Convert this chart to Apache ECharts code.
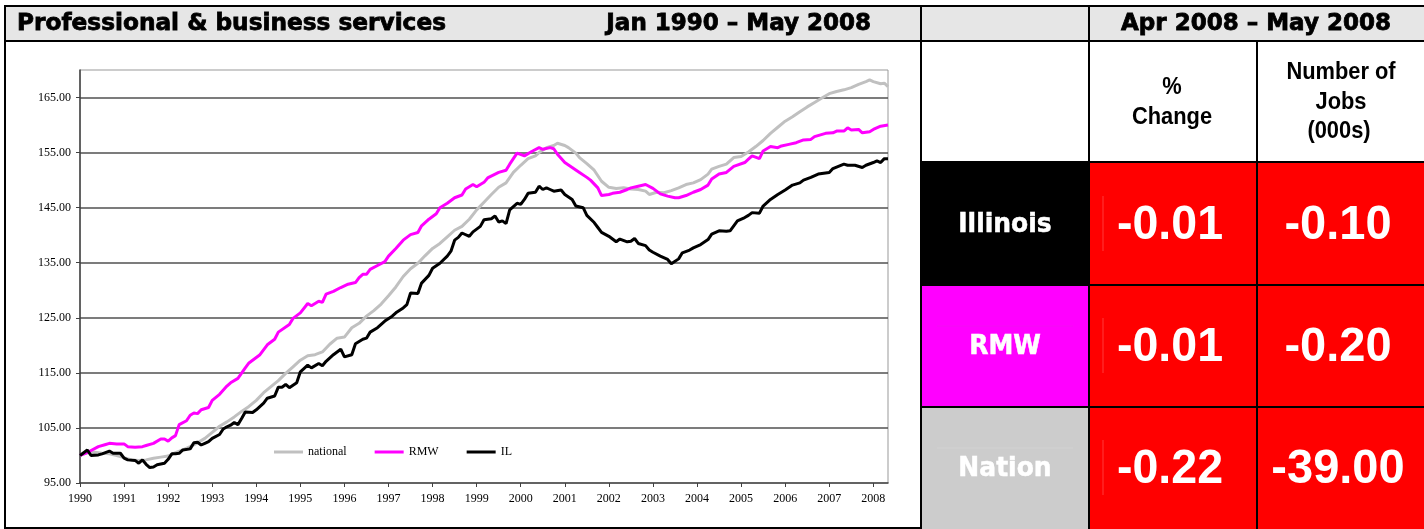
<!DOCTYPE html>
<html><head><meta charset="utf-8">
<script src="https://cdn.jsdelivr.net/npm/echarts@6/dist/echarts.min.js"></script>
<style>html,body{margin:0;padding:0;background:#fff}#c{width:1424px;height:529px}</style>
</head><body><div id="c"></div>
<script>
// ---------- data ----------
const chartTitle = 'Professional & business services';
const chartPeriod = 'Jan 1990 \u2013 May 2008';
const tablePeriod = 'Apr 2008 \u2013 May 2008';
const years = [1990,1991,1992,1993,1994,1995,1996,1997,1998,1999,2000,2001,2002,2003,2004,2005,2006,2007,2008];
const monthNames = ['Jan','Feb','Mar','Apr','May','Jun','Jul','Aug','Sep','Oct','Nov','Dec'];
const monthCount = 221; // Jan 1990 .. May 2008
const yMin = 95, yMax = 170, yStep = 10;
const seriesNames = ['national','RMW','IL'];

// [month index from Jan 1990, index value]
const national = [[0,100],[2,100.5],[4,100.6],[6,100.4],[8,100.3],[10,100],[12,99.6],[14,99.2],[16,99.1],[18,99.2],[20,99.5],[22,99.7],[24,99.9],[26,100.5],[28,101],[30,101.6],[32,102.3],[34,103.1],[36,104.2],[38,105.3],[40,106.1],[42,107],[44,108],[46,108.9],[48,110],[50,111.4],[52,112.5],[54,113.6],[56,114.9],[58,116.1],[60,117.3],[62,118.1],[64,118.3],[66,118.8],[68,120.2],[70,121.3],[72,121.5],[74,123.2],[76,124],[78,125.3],[80,126.3],[82,127.5],[84,129],[86,130.6],[88,132.5],[90,133.9],[92,134.9],[94,136.3],[96,137.6],[98,138.5],[100,139.7],[102,140.9],[104,141.6],[106,142.9],[108,144.6],[110,146],[112,147.4],[114,148.7],[116,149.5],[118,151.4],[120,152.7],[122,153.9],[124,154.4],[125,155],[127,155.9],[129,156.3],[130,156.7],[132,156.3],[133,155.9],[135,154.9],[136,154.1],[138,153],[140,151.8],[141,150.8],[142,149.8],[144,148.7],[146,148.5],[148,148.6],[150,148.4],[152,148.3],[154,148],[155,147.4],[157,147.8],[159,147.7],[161,148.1],[163,148.6],[165,149.2],[167,149.5],[169,150.1],[171,151.1],[172,152],[174,152.5],[176,152.9],[178,154.1],[180,154.3],[182,155.1],[184,156.1],[186,157.2],[188,158.5],[190,159.6],[192,160.7],[194,161.5],[196,162.4],[198,163.3],[200,164.1],[202,164.9],[204,165.7],[206,166.1],[208,166.4],[210,166.8],[212,167.4],[214,167.9],[215,168.2],[216,167.9],[218,167.5],[219,167.6],[220,167]];

const rmw = [[0,100],[2,100.5],[3,100.9],[5,101.6],[7,102],[8,102.2],[10,102.1],[12,102.1],[13,101.6],[15,101.5],[17,101.6],[18,101.8],[20,102.2],[22,103],[23,103],[24,102.6],[25,103.2],[26,103.6],[27,105.6],[29,106.3],[30,107.3],[31,107.7],[32,107.6],[33,108.3],[35,108.7],[36,110],[38,111.1],[40,112.6],[41,113.2],[43,114],[45,115.9],[46,116.8],[49,118.3],[51,120.1],[53,121.1],[54,122.4],[57,123.8],[58,124.9],[60,125.9],[62,127.6],[63,127.2],[65,128],[66,127.8],[67,129.3],[69,129.8],[71,130.5],[73,131.1],[75,131.4],[76,132.3],[77,132.9],[78,132.9],[79,133.8],[81,134.5],[83,135.2],[84,136.2],[86,137.6],[88,139.1],[90,140.1],[92,140.5],[93,141.7],[95,142.9],[97,143.9],[98,145],[100,145.8],[102,146.8],[104,147.3],[105,148.4],[107,149.2],[108,148.8],[110,149.6],[111,150.4],[114,151.4],[116,151.8],[117,152.9],[119,154.9],[121,154.4],[123,155.2],[125,155.9],[126,155.6],[128,155.9],[129,155.7],[130,154.7],[132,153.2],[134,152.3],[136,151.4],[138,150.5],[139,150],[141,148.6],[142,147.2],[144,147.4],[145,147.6],[147,147.8],[149,148.3],[150,148.6],[152,148.9],[154,149.2],[156,148.5],[158,147.5],[160,147.1],[162,146.8],[163,146.8],[165,147.2],[167,147.8],[169,148.3],[171,149.1],[172,150.2],[174,151.1],[176,151.4],[178,152.5],[181,153.2],[182,153.8],[183,154.4],[185,153.9],[186,155.3],[188,156.1],[190,155.9],[191,156.2],[193,156.5],[195,156.8],[197,157.3],[199,157.4],[200,157.9],[203,158.5],[205,158.6],[206,158.9],[208,158.9],[209,159.5],[210,159.1],[212,159.2],[213,158.6],[215,158.8],[216,159.2],[218,159.8],[220,160]];

const il = [[0,100],[2,101],[3,100],[5,100.1],[6,100.3],[8,100.8],[9,100.4],[11,100.4],[12,99.5],[13,99.2],[15,99.1],[16,98.6],[17,99.2],[18,98.4],[19,97.8],[20,97.9],[21,98.3],[23,98.6],[24,99.3],[25,100.3],[26,100.3],[27,100.4],[28,101],[30,101.2],[31,102.3],[32,102.4],[33,101.9],[34,102.2],[35,102.5],[36,103.1],[38,103.8],[39,104.8],[40,105.2],[41,105.5],[42,106],[43,105.6],[44,106.7],[45,107.9],[47,107.8],[48,108.3],[50,109.5],[51,110.4],[53,110.8],[54,112.4],[55,112.4],[56,112.9],[57,112.3],[59,113.2],[60,115.2],[62,116.4],[63,115.9],[65,116.7],[66,116.3],[67,117.1],[69,118.3],[71,119.3],[72,117.9],[74,118.3],[75,120.3],[77,121.1],[78,121.3],[79,122.4],[81,123.2],[83,124.4],[85,125.3],[86,125.9],[88,126.8],[89,127.4],[90,129.5],[92,129.4],[93,131.3],[95,132.7],[96,134],[98,134.9],[100,136.2],[101,137.1],[102,139.1],[103,139.6],[104,140.4],[106,139.8],[107,140.6],[108,141.1],[109,141.6],[110,142.8],[112,143],[113,143.5],[114,142.4],[115,142.6],[116,142.1],[117,144.6],[119,145.8],[120,145.6],[121,146.5],[122,147.6],[124,147.8],[125,148.9],[126,148.3],[127,148.6],[128,148.3],[129,148],[131,148.2],[132,147.4],[134,146.5],[135,145.3],[137,145],[138,143.6],[140,142.3],[141,141.4],[142,140.5],[144,139.8],[146,138.8],[147,139.3],[149,138.8],[150,138.9],[151,139.4],[152,138.5],[154,138.1],[155,137.3],[156,136.9],[158,136.2],[160,135.6],[161,134.8],[163,135.7],[164,136.8],[166,137.3],[167,137.7],[169,138.3],[171,139.2],[172,140.2],[174,140.8],[176,140.7],[177,140.8],[179,142.6],[181,143.2],[182,143.6],[183,144.1],[185,144],[186,145.3],[188,146.5],[190,147.4],[192,148.2],[194,149.1],[196,149.5],[197,150],[199,150.5],[201,151.1],[204,151.4],[205,152.1],[208,152.9],[209,152.7],[211,152.7],[213,152.3],[214,152.7],[216,153.2],[217,153.5],[218,153.2],[219,153.9],[220,153.9]];

const tableRegions = ['Illinois','RMW','Nation'];
const pctChange = [-0.01,-0.01,-0.22];
const jobsChange = [-0.10,-0.20,-39.00];
const colPct = ['%','Change'];
const colJobs = ['Number of','Jobs','(000s)'];

// ---------- build ----------
const months = [];
years.forEach(y => monthNames.forEach(m => { if (months.length < monthCount) months.push(m + ' ' + y); }));

const SERIF = '"Liberation Serif","Times New Roman",serif';
const HEAVY = '"DejaVu Sans",sans-serif';
const SANS = '"Liberation Sans",Arial,sans-serif';

const G = [];
function rect(x, y, w, h, fill, z) { G.push({type:'rect', silent:true, z:z||1, shape:{x:x, y:y, width:w, height:h}, style:{fill:fill}}); }
function seg(x1, y1, x2, y2, w, c, z) { G.push({type:'line', silent:true, z:z||5, shape:{x1:x1, y1:y1, x2:x2, y2:y2}, style:{stroke:c||'#000', lineWidth:w||2}}); }
function txt(t, x, y, o) {
  const st = {text:t, fontSize:o.size, fontFamily:o.family, fontWeight:o.weight||'bold', fill:o.color||'#000',
      align:o.align||'center', verticalAlign:'middle'};
  if (o.stroke) { st.stroke = o.color || '#000'; st.lineWidth = o.stroke; }
  G.push({type:'text', silent:true, z:6, x:x, y:y, scaleX:o.sx||1, scaleY:o.sy||1, style:st});
}

// layout
const L = {left:5, top:6, headBot:41, subBot:162, split:921, c2:1089, c3:1257, right:1424, bottom:528};
const rowEdges = [162, 285, 407, 529];
const rowFill = ['#000000','#ff00ff','#cccccc'];

rect(L.left, L.top, L.right - L.left, L.headBot - L.top, '#e6e6e6');
rect(L.c2, rowEdges[0], L.right - L.c2, rowEdges[3] - rowEdges[0], '#ff0000');
tableRegions.forEach((r, i) => rect(L.split, rowEdges[i], L.c2 - L.split, rowEdges[i+1] - rowEdges[i], rowFill[i]));

// faint artifacts
[[196,251],[318,373],[440,495]].forEach(p => seg(1103, p[0], 1103, p[1], 1, '#ff3b3b', 4));
seg(937, 326, 1073, 326, 1, '#f20ff2', 4);
seg(937, 448, 1073, 448, 1, '#d2d2d2', 4);

// borders
seg(4, L.top, L.right, L.top, 2);
seg(4, L.headBot, L.right, L.headBot, 2);
seg(L.left, L.top - 1, L.left, L.bottom + 1, 2);
seg(4, L.bottom, L.split, L.bottom, 2);
seg(L.split, L.top - 1, L.split, 529, 2);
seg(L.c2, L.top - 1, L.c2, 529, 2);
seg(L.c3, L.headBot, L.c3, 529, 2);
rowEdges.slice(0, 3).forEach(y => seg(L.split, y, L.right, y, 2));

// header texts
txt(chartTitle, 17, 24, {size:23, family:HEAVY, align:'left', stroke:0.8, sx:1.01});
txt(chartPeriod, 871, 24, {size:23, family:HEAVY, align:'right', stroke:0.8});
txt(tablePeriod, 1256, 24, {size:23, family:HEAVY, stroke:0.8});
const hdr = {size:23, family:SANS, sx:0.95, sy:1.05};
txt(colPct[0], 1172, 87, hdr);
txt(colPct[1], 1172, 117, hdr);
txt(colJobs[0], 1341, 72, hdr);
txt(colJobs[1], 1341, 102, hdr);
txt(colJobs[2], 1339, 131, hdr);

const rowMid = [225, 347, 469];
tableRegions.forEach((r, i) => {
  txt(r, 1005, rowMid[i], {size:25, family:HEAVY, color:'#ffffff', sy:1.05, stroke:0.5});
  txt(pctChange[i].toFixed(2), 1170, rowMid[i], {size:49, family:SANS, color:'#ffffff', sx:0.95});
  txt(jobsChange[i].toFixed(2), 1338, rowMid[i], {size:49, family:SANS, color:'#ffffff', sx:0.96});
});

const seriesColors = ['#c0c0c0', '#ff00ff', '#000000'];
const seriesData = [national, rmw, il];

const chart = echarts.init(document.getElementById('c'), null, {renderer:'canvas'});
chart.setOption({
  animation: false,
  backgroundColor: '#ffffff',
  grid: {left: 80, top: 70, width: 808, bottom: 46, show: true, borderColor: '#999999', borderWidth: 1, backgroundColor: 'transparent', containLabel: false},
  legend: {
    data: seriesNames, left: 274, top: 446, padding: 0, icon: 'rect', itemWidth: 29, itemHeight: 3, itemGap: 28,
    textStyle: {fontFamily: SERIF, fontSize: 12, color: '#000'}
  },
  xAxis: {
    type: 'category', data: months, boundaryGap: false,
    axisLine: {lineStyle: {color: '#404040', width: 1.5}},
    axisTick: {show: true, length: 4, interval: (i) => i % 12 === 0, lineStyle: {color: '#404040'}},
    axisLabel: {interval: (i) => i % 12 === 0, formatter: (v, i) => String(years[Math.floor(i / 12)]),
      fontFamily: SERIF, fontSize: 12, color: '#000', margin: 10},
    splitLine: {show: false}
  },
  yAxis: {
    type: 'value', min: yMin, max: yMax, interval: yStep,
    axisLine: {show: true, lineStyle: {color: '#404040', width: 1.5}},
    axisTick: {show: true, length: 4, lineStyle: {color: '#404040'}},
    axisLabel: {formatter: (v) => (v < yMax && Math.abs((v - yMin) % yStep) < 1e-6) ? v.toFixed(2) : '',
      fontFamily: SERIF, fontSize: 12, color: '#000', margin: 9, showMaxLabel: false},
    splitLine: {show: true, showMinLine: false, showMaxLine: false, lineStyle: {color: '#505050', width: 1.5}}
  },
  series: seriesNames.map((n, k) => ({
    name: n, type: 'line', data: seriesData[k], showSymbol: false, symbol: 'none',
    color: seriesColors[k], lineStyle: {color: seriesColors[k], width: 3}, z: 2 + k
  })),
  graphic: G
});
</script>
</body></html>
